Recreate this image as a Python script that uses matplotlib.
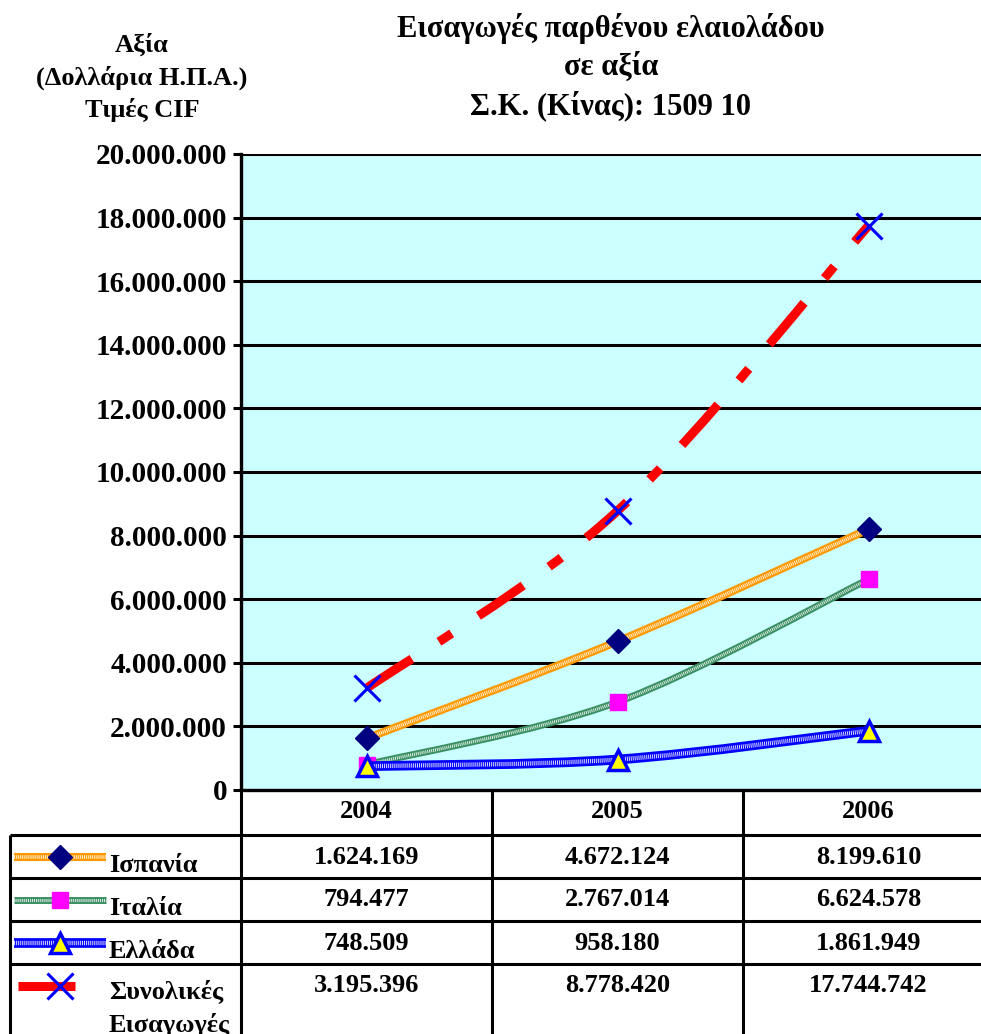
import matplotlib
matplotlib.use("Agg")
import matplotlib.pyplot as plt
from matplotlib.path import Path
from matplotlib.patches import PathPatch
from matplotlib.ticker import FuncFormatter, MultipleLocator

plt.rcParams['font.family'] = ['Liberation Serif', 'DejaVu Serif']
plt.rcParams['font.weight'] = 'bold'
plt.rcParams['lines.scale_dashes'] = False

# ---- data -------------------------------------------------------------
years = ['2004', '2005', '2006']
spain = [1624169, 4672124, 8199610]
italy = [794477, 2767014, 6624578]
greece = [748509, 958180, 1861949]
total = [3195396, 8778420, 17744742]
series_names = ['Ισπανία', 'Ιταλία', 'Ελλάδα', 'Συνολικές\nΕισαγωγές']

title = 'Εισαγωγές παρθένου ελαιολάδου\nσε αξία\nΣ.Κ. (Κίνας): 1509 10'
ylabel = 'Αξία\n(Δολλάρια Η.Π.Α.)\nΤιμές CIF'


def fmt_dots(v):
    return f'{int(v):,}'.replace(',', '.')


W, H = 981, 1034
fig = plt.figure(figsize=(W / 100, H / 100), dpi=100)

# plot area (extends slightly past the right edge, like the exported sheet)
left, right, top, bottom = 241, 994, 154, 790
ax = fig.add_axes([left / W, 1 - bottom / H, (right - left) / W, (bottom - top) / H])
ax.set_facecolor('#CCFFFF')
ax.set_xlim(-0.5, 2.5)
ax.set_ylim(0, 20000000)
ax.yaxis.set_major_locator(MultipleLocator(2000000))
ax.yaxis.set_major_formatter(FuncFormatter(lambda v, p: fmt_dots(v)))
ax.set_xticks([])
ax.grid(axis='y', color='black', linewidth=2.2, zorder=1)
ax.set_axisbelow(True)
for s in ['top', 'right']:
    ax.spines[s].set_visible(False)
ax.spines['left'].set_linewidth(2.4)
ax.spines['bottom'].set_linewidth(2.4)
ax.tick_params(axis='y', length=6, width=2.2, labelsize=21, pad=4)
for lab in ax.get_yticklabels():
    lab.set_fontweight('bold')


def smooth_path(xs, ys):
    """Cubic Bezier through the points (Catmull-Rom style control points)."""
    pts = list(zip(xs, ys))
    n = len(pts)
    verts = [pts[0]]
    codes = [Path.MOVETO]
    for i in range(n - 1):
        p0 = pts[max(i - 1, 0)]
        p1 = pts[i]
        p2 = pts[i + 1]
        p3 = pts[min(i + 2, n - 1)]
        c1 = (p1[0] + (p2[0] - p0[0]) / 6, p1[1] + (p2[1] - p0[1]) / 6)
        c2 = (p2[0] - (p3[0] - p1[0]) / 6, p2[1] - (p3[1] - p1[1]) / 6)
        verts += [c1, c2, p2]
        codes += [Path.CURVE4] * 3
    return Path(verts, codes)


xs = list(range(len(years)))

styles = [
    dict(data=spain, color='#FF9900', lw=5.8, tex=True, marker='D', ms=12,
         mfc='#000080', mec='#000080', mew=1),
    dict(data=italy, color='#3A8F62', lw=5.0, tex=True, marker='s', ms=11,
         mfc='#FF00FF', mec='#FF00FF', mew=1),
    dict(data=greece, color='#0000FF', lw=7.0, tex=True, marker='^', ms=15,
         mfc='#FFFF00', mec='#0000FF', mew=2.5),
    dict(data=total, color='#FF0000', lw=6.5, tex=False, marker='x', ms=19,
         mfc='#0000FF', mec='#0000FF', mew=2.2),
]


def texture(lw):
    return dict(linewidth=lw * 0.45, linestyle=(0, (0.7, 0.7)), alpha=0.85)


z = 3
for st in styles:
    path = smooth_path(xs, st['data'])
    if st['tex']:
        ax.add_patch(PathPatch(path, fill=False, edgecolor=st['color'],
                               linewidth=st['lw'], capstyle='butt', zorder=z))
        ax.add_patch(PathPatch(path, fill=False, edgecolor='white',
                               capstyle='butt', zorder=z + 0.1, **texture(st['lw'])))
    else:
        ax.add_patch(PathPatch(path, fill=False, edgecolor=st['color'],
                               linewidth=st['lw'], capstyle='butt',
                               linestyle=(0, (39, 23, 11, 23)), zorder=z))
    ax.plot(xs, st['data'], linestyle='none', marker=st['marker'],
            markersize=st['ms'], markerfacecolor=st['mfc'],
            markeredgecolor=st['mec'], markeredgewidth=st['mew'], zorder=z + 0.5)
    z += 1

# ---- titles -------------------------------------------------------------
fig.text(611 / W, 1 - 67 / H, title, ha='center', va='center', fontsize=22,
         fontweight='bold', linespacing=1.36)
fig.text(142 / W, 1 - 78 / H, ylabel, ha='center', va='center', fontsize=19,
         fontweight='bold', linespacing=1.45)

# ---- data table -----------------------------------------------------------
ov = fig.add_axes([0, 0, 1, 1])
ov.set_xlim(0, W)
ov.set_ylim(H, 0)
ov.axis('off')

col_edges = [241, 492, 743, 994]
row_edges = [790, 835, 878, 921, 964]
tlw = 2.2
for x in col_edges:
    ov.plot([x, x], [790, H + 20], color='black', lw=tlw, solid_capstyle='butt')
ov.plot([10, 10], [835, H + 20], color='black', lw=tlw, solid_capstyle='butt')
for y in row_edges[1:]:
    ov.plot([10, right], [y, y], color='black', lw=tlw, solid_capstyle='butt')

for j, yr in enumerate(years):
    cx = (col_edges[j] + col_edges[j + 1]) / 2
    ov.text(cx, 812, yr, ha='center', va='center', fontsize=19, fontweight='bold')

all_series = [spain, italy, greece, total]
for i, vals in enumerate(all_series):
    ytop = row_edges[i + 1]
    cy = ytop + 22
    for j, v in enumerate(vals):
        cx = (col_edges[j] + col_edges[j + 1]) / 2
        ov.text(cx, cy, fmt_dots(v), ha='center', va='center', fontsize=19,
                fontweight='bold')

# legend keys inside the table
for i, st in enumerate(styles):
    ytop = row_edges[i + 1]
    ky = ytop + 22
    if st['tex']:
        ov.plot([14, 106], [ky, ky], color=st['color'], lw=st['lw'],
                solid_capstyle='butt', zorder=3)
        ov.plot([14, 106], [ky, ky], color='white', solid_capstyle='butt',
                zorder=3.1, **texture(st['lw']))
    else:
        ov.plot([18, 75], [ky, ky], color=st['color'], lw=st['lw'],
                solid_capstyle='butt', zorder=3)
    ov.plot([60], [ky], linestyle='none', marker=st['marker'],
            markersize=st['ms'], markerfacecolor=st['mfc'],
            markeredgecolor=st['mec'], markeredgewidth=st['mew'], zorder=4)
    if i < 3:
        ov.text(109, ytop + 37, series_names[i], ha='left', va='baseline',
                fontsize=19, fontweight='bold')
    else:
        ov.text(109, ytop + 44, series_names[i], ha='left', va='center',
                fontsize=19, fontweight='bold', linespacing=1.5)

fig.savefig('out.png', dpi=100)
